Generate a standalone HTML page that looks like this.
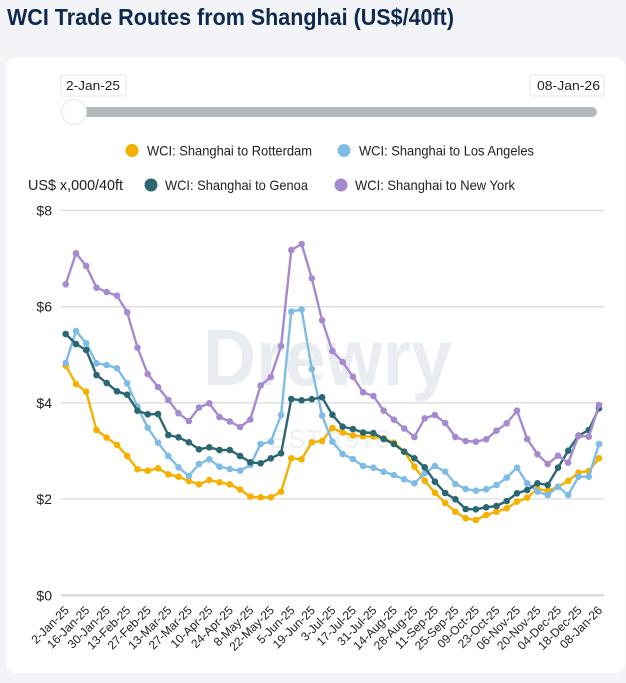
<!DOCTYPE html>
<html><head><meta charset="utf-8"><style>
html,body{margin:0;padding:0;background:#f2f4f7;}
svg{display:block;font-family:"Liberation Sans",sans-serif;}
</style></head><body>
<svg width="626" height="683" viewBox="0 0 626 683" xmlns="http://www.w3.org/2000/svg">
<defs>
<marker id="mo" markerWidth="8" markerHeight="8" refX="4" refY="4" markerUnits="userSpaceOnUse"><circle cx="4" cy="4" r="3.3" fill="#f5b000"/></marker>
<marker id="mb" markerWidth="8" markerHeight="8" refX="4" refY="4" markerUnits="userSpaceOnUse"><circle cx="4" cy="4" r="3.3" fill="#7fbce5"/></marker>
<marker id="mt" markerWidth="8" markerHeight="8" refX="4" refY="4" markerUnits="userSpaceOnUse"><circle cx="4" cy="4" r="3.3" fill="#2b6770"/></marker>
<marker id="mp" markerWidth="8" markerHeight="8" refX="4" refY="4" markerUnits="userSpaceOnUse"><circle cx="4" cy="4" r="3.3" fill="#a68ad0"/></marker>
</defs>
<rect x="0" y="0" width="626" height="683" fill="#f2f4f7"/>
<text x="7" y="25" font-size="23" font-weight="bold" fill="#0f2a4e" textLength="447" lengthAdjust="spacingAndGlyphs">WCI Trade Routes from Shanghai (US$/40ft)</text>
<rect x="6" y="57" width="619" height="616" rx="10" ry="10" fill="#ffffff"/>

<!-- slider -->
<rect x="61" y="75" width="65" height="21" fill="#fff" stroke="#e3e5e8" stroke-width="1" rx="2"/>
<text x="66" y="90" font-size="13" fill="#222" textLength="54" lengthAdjust="spacingAndGlyphs">2-Jan-25</text>
<rect x="530" y="75" width="74" height="21" fill="#fff" stroke="#e3e5e8" stroke-width="1" rx="2"/>
<text x="537" y="90" font-size="13" fill="#222" textLength="63" lengthAdjust="spacingAndGlyphs">08-Jan-26</text>
<rect x="64" y="107" width="533" height="10" rx="5" fill="#b4b9be"/>
<circle cx="74" cy="112" r="12.5" fill="#ffffff" stroke="#e2e4e6" stroke-width="1"/>

<!-- legend -->
<circle cx="132" cy="150.5" r="6.5" fill="#f5b000"/>
<text x="147" y="155.5" font-size="14" fill="#222" textLength="165" lengthAdjust="spacingAndGlyphs">WCI: Shanghai to Rotterdam</text>
<circle cx="344" cy="150.5" r="6.5" fill="#7fbce5"/>
<text x="359" y="155.5" font-size="14" fill="#222" textLength="175" lengthAdjust="spacingAndGlyphs">WCI: Shanghai to Los Angeles</text>
<text x="28" y="190" font-size="15" fill="#222" textLength="95" lengthAdjust="spacingAndGlyphs">US$ x,000/40ft</text>
<circle cx="151" cy="185" r="6.5" fill="#2b6770"/>
<text x="165" y="190" font-size="14" fill="#222" textLength="143" lengthAdjust="spacingAndGlyphs">WCI: Shanghai to Genoa</text>
<circle cx="341" cy="185" r="6.5" fill="#a68ad0"/>
<text x="355" y="190" font-size="14" fill="#222" textLength="160" lengthAdjust="spacingAndGlyphs">WCI: Shanghai to New York</text>

<!-- watermark -->
<text x="203" y="385" font-size="80" font-weight="bold" fill="#e9edf2" textLength="249" lengthAdjust="spacingAndGlyphs">Drewry</text>
<text x="270" y="448" font-size="26" fill="#eef1f4" textLength="120" lengthAdjust="spacing">EST 1970</text>

<!-- grid -->
<g stroke="#dddddd" stroke-width="1.3">
<line x1="61" y1="210.5" x2="604" y2="210.5"/>
<line x1="61" y1="306.7" x2="604" y2="306.7"/>
<line x1="61" y1="402.8" x2="604" y2="402.8"/>
<line x1="61" y1="499" x2="604" y2="499"/>
</g>
<line x1="61" y1="595.3" x2="604" y2="595.3" stroke="#d2d2d2" stroke-width="1.8"/>
<g font-size="14" fill="#222" text-anchor="end">
<text x="52" y="215.5">$8</text>
<text x="52" y="311.7">$6</text>
<text x="52" y="407.8">$4</text>
<text x="52" y="504">$2</text>
<text x="52" y="600.3">$0</text>
</g>

<!-- series -->
<g fill="none" stroke-width="2.4" stroke-linejoin="round" stroke-linecap="round">
<polyline stroke="#f5b000" marker-start="url(#mo)" marker-mid="url(#mo)" marker-end="url(#mo)" points="65.7,365.7 76,384 86.2,391.7 96.5,430 106.7,437.7 117,445 127.2,456 137.5,469.3 147.7,470.7 158,468.3 168.3,474.3 178.5,476.7 188.8,481 199,484.3 209.3,480 219.5,482.3 229.8,484.3 240.1,489.5 250.3,496.7 260.6,497.3 270.8,497.3 281.1,491.7 291.3,458.3 301.6,459.3 311.8,442.3 322.1,441 332.4,428 342.6,432.5 352.9,435.5 363.1,436.3 373.4,436.5 383.6,438.3 393.9,442.7 404.2,451.7 414.4,466.7 424.7,480.7 434.9,492.7 445.2,503 455.4,511.7 465.7,518.3 475.9,520 486.2,515 496.5,511.7 506.7,508.3 517,501.7 527.2,497.7 537.5,489 547.7,490.7 558,486.7 568.2,481 578.5,472.7 588.8,471 599,458.3"/>
<polyline stroke="#7fbce5" marker-start="url(#mb)" marker-mid="url(#mb)" marker-end="url(#mb)" points="65.7,363 76,331 86.2,343.3 96.5,363.3 106.7,365 117,368.3 127.2,383.3 137.5,406.7 147.7,427.7 158,442.7 168.3,456 178.5,467.3 188.8,476 199,464 209.3,459.3 219.5,466.7 229.8,469 240.1,470.7 250.3,465 260.6,444 270.8,441.7 281.1,415 291.3,311.5 301.6,309.5 311.8,369 322.1,415.5 332.4,441.7 342.6,454 352.9,459 363.1,466 373.4,467.7 383.6,471.7 393.9,475 404.2,479.3 414.4,483.3 424.7,473.3 434.9,466 445.2,471.7 455.4,484 465.7,489 475.9,490.7 486.2,489.3 496.5,485 506.7,477.7 517,467.7 527.2,483.3 537.5,491.7 547.7,495 558,486.7 568.2,495 578.5,476.7 588.8,476.7 599,444"/>
<polyline stroke="#2b6770" marker-start="url(#mt)" marker-mid="url(#mt)" marker-end="url(#mt)" points="65.7,334 76,344 86.2,350 96.5,375 106.7,383 117,391.3 127.2,394.7 137.5,410.7 147.7,414.3 158,414 168.3,435 178.5,437.3 188.8,442.3 199,449.3 209.3,447.3 219.5,450 229.8,450 240.1,456 250.3,462.3 260.6,463.3 270.8,458.3 281.1,453.3 291.3,399 301.6,400.3 311.8,399.2 322.1,397.3 332.4,414.8 342.6,426.7 352.9,429 363.1,432.5 373.4,433 383.6,439 393.9,444 404.2,451.7 414.4,458.3 424.7,467.3 434.9,481.7 445.2,493 455.4,499.3 465.7,509 475.9,509.3 486.2,507.3 496.5,506 506.7,501 517,493.3 527.2,490 537.5,483.3 547.7,485 558,467.7 568.2,450.7 578.5,435.7 588.8,430 599,408.3"/>
<polyline stroke="#a68ad0" marker-start="url(#mp)" marker-mid="url(#mp)" marker-end="url(#mp)" points="65.7,284.3 76,253.3 86.2,266 96.5,287.7 106.7,292 117,295.7 127.2,312.3 137.5,347.7 147.7,374 158,387 168.3,400 178.5,413.3 188.8,421 199,407.5 209.3,403.3 219.5,417 229.8,421.5 240.1,427 250.3,419.5 260.6,385.5 270.8,377 281.1,346 291.3,250 301.6,244 311.8,278.3 322.1,320.3 332.4,351 342.6,362 352.9,376.7 363.1,392.3 373.4,396 383.6,410.7 393.9,419.7 404.2,428.5 414.4,437 424.7,418.3 434.9,415 445.2,423 455.4,437 465.7,441 475.9,441.7 486.2,439.3 496.5,430.7 506.7,423.3 517,410.7 527.2,439 537.5,454.3 547.7,464 558,455.7 568.2,462.7 578.5,436 588.8,436.7 599,405"/>
</g>

<!-- x labels -->
<g font-size="12" fill="#222" text-anchor="end">
<text transform="translate(69.7,611) rotate(-45)">2-Jan-25</text>
<text transform="translate(90.2,611) rotate(-45)">16-Jan-25</text>
<text transform="translate(110.7,611) rotate(-45)">30-Jan-25</text>
<text transform="translate(131.2,611) rotate(-45)">13-Feb-25</text>
<text transform="translate(151.7,611) rotate(-45)">27-Feb-25</text>
<text transform="translate(172.3,611) rotate(-45)">13-Mar-25</text>
<text transform="translate(192.8,611) rotate(-45)">27-Mar-25</text>
<text transform="translate(213.3,611) rotate(-45)">10-Apr-25</text>
<text transform="translate(233.8,611) rotate(-45)">24-Apr-25</text>
<text transform="translate(254.3,611) rotate(-45)">8-May-25</text>
<text transform="translate(274.8,611) rotate(-45)">22-May-25</text>
<text transform="translate(295.3,611) rotate(-45)">5-Jun-25</text>
<text transform="translate(315.8,611) rotate(-45)">19-Jun-25</text>
<text transform="translate(336.4,611) rotate(-45)">3-Jul-25</text>
<text transform="translate(356.9,611) rotate(-45)">17-Jul-25</text>
<text transform="translate(377.4,611) rotate(-45)">31-Jul-25</text>
<text transform="translate(397.9,611) rotate(-45)">14-Aug-25</text>
<text transform="translate(418.4,611) rotate(-45)">28-Aug-25</text>
<text transform="translate(438.9,611) rotate(-45)">11-Sep-25</text>
<text transform="translate(459.4,611) rotate(-45)">25-Sep-25</text>
<text transform="translate(479.9,611) rotate(-45)">09-Oct-25</text>
<text transform="translate(500.5,611) rotate(-45)">23-Oct-25</text>
<text transform="translate(521,611) rotate(-45)">06-Nov-25</text>
<text transform="translate(541.5,611) rotate(-45)">20-Nov-25</text>
<text transform="translate(562,611) rotate(-45)">04-Dec-25</text>
<text transform="translate(582.5,611) rotate(-45)">18-Dec-25</text>
<text transform="translate(603,611) rotate(-45)">08-Jan-26</text>
</g>
</svg>
</body></html>
